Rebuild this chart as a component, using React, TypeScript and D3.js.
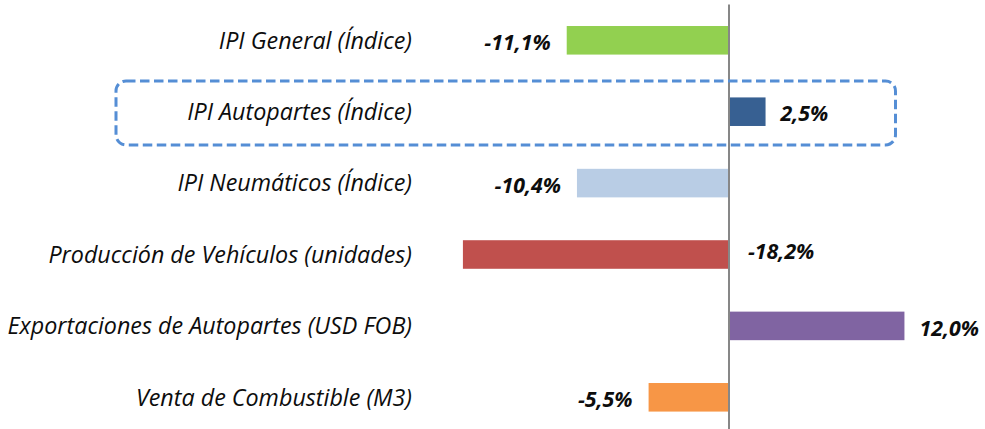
import React from "react";
import * as d3 from "d3";

const categories = [
  "IPI General (Índice)",
  "IPI Autopartes (Índice)",
  "IPI Neumáticos (Índice)",
  "Producción de Vehículos (unidades)",
  "Exportaciones de Autopartes (USD FOB)",
  "Venta de Combustible (M3)",
];
const values = [-11.1, 2.5, -10.4, -18.2, 12.0, -5.5];
const barColors = ["#92D050", "#376092", "#B9CDE5", "#C0504D", "#8064A2", "#F79646"];
const labelOpposite = [false, false, false, true, false, false];
const highlighted = "IPI Autopartes (Índice)";

const W = 985;
const H = 429;
const FONT = "'Open Sans', Lato, sans-serif";

export default function App() {
  const pxPerPct = 14.62;
  const zeroX = 729;
  const x = d3
    .scaleLinear()
    .domain([-20, 15])
    .range([zeroX - 20 * pxPerPct, zeroX + 15 * pxPerPct]);
  const y = d3
    .scaleBand<string>()
    .domain(categories)
    .range([4.6, 433])
    .paddingInner(0.6)
    .paddingOuter(0.3);

  const fmt = (v: number) => v.toFixed(1).replace(".", ",") + "%";
  const hy = y(highlighted)!;
  const bw = y.bandwidth();

  return (
    <svg
      width={W}
      height={H}
      style={{ position: "absolute", left: 0, top: 0, background: "#fff" }}
    >
      <rect x={0} y={0} width={W} height={H} fill="#fff" />
      {categories.map((c, i) => {
        const v = values[i];
        const y0 = y(c)!;
        const x0 = x(Math.min(0, v));
        const x1 = x(Math.max(0, v));
        const cy = y0 + bw / 2;
        const neg = v < 0;
        let lx: number;
        let anchor: "start" | "end";
        if (labelOpposite[i]) {
          lx = neg ? x(0) + 19 : x(0) - 19;
          anchor = neg ? "start" : "end";
        } else {
          lx = neg ? x0 - 16 : x1 + 15;
          anchor = neg ? "end" : "start";
        }
        return (
          <g key={c}>
            <rect
              x={neg ? x0 : x0 + 1}
              y={y0}
              width={neg ? x1 - x0 : x1 - x0 - 1}
              height={bw}
              fill={barColors[i]}
            />
            <text
              x={412}
              y={cy}
              dy="0.36em"
              textAnchor="end"
              fontFamily={FONT}
              fontStyle="italic"
              fontSize={23.3}
              fill="#0d0d0d"
            >
              {c}
            </text>
            <text
              x={lx}
              y={labelOpposite[i] ? cy - 3.5 : cy + 2}
              dy="0.36em"
              textAnchor={anchor}
              fontFamily={FONT}
              fontStyle="italic"
              fontWeight="bold"
              fontSize={21.3}
              fill="#0d0d0d"
            >
              {fmt(v)}
            </text>
          </g>
        );
      })}
      <line
        x1={x(0)}
        x2={x(0)}
        y1={4.6}
        y2={H}
        stroke="#878787"
        strokeWidth={2}
      />
      <rect
        x={116}
        y={hy - 16.5}
        width={779.5}
        height={bw + 35.5}
        rx={10}
        ry={10}
        fill="none"
        stroke="#558ED5"
        strokeWidth={3}
        strokeDasharray="9.5 4.5"
      />
    </svg>
  );
}
